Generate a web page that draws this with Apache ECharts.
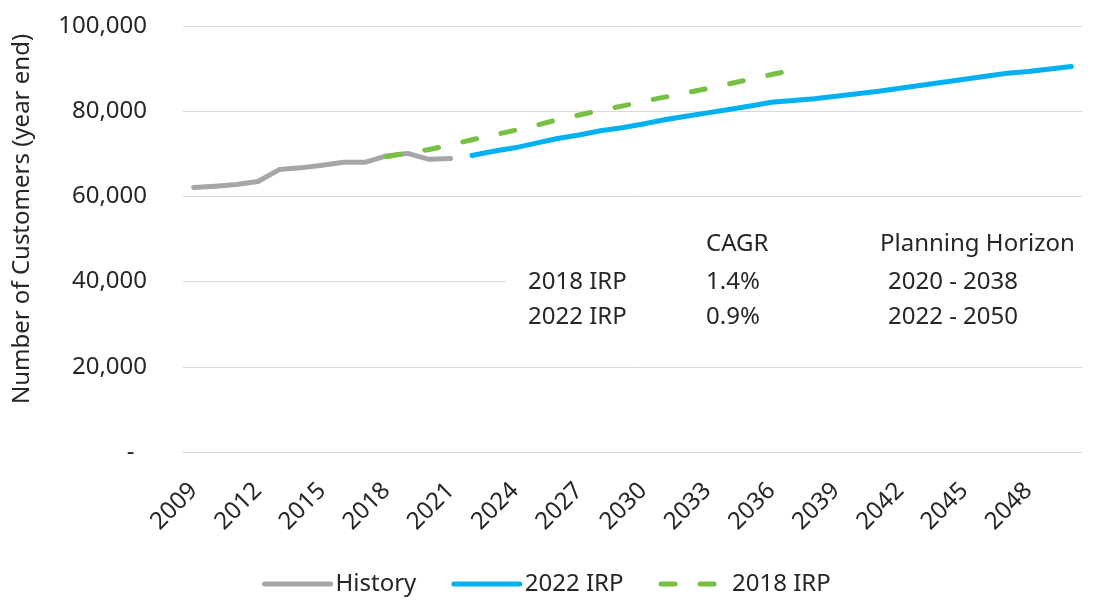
<!DOCTYPE html>
<html>
<head>
<meta charset="utf-8">
<script src="https://cdn.jsdelivr.net/npm/echarts@6/dist/echarts.min.js"></script>
<style>
html,body{margin:0;padding:0;background:#fff;}
#chart{width:1095px;height:613px;}
</style>
</head>
<body>
<div id="chart"></div>
<script>
// Categories (year end)
const years = ['2009','2010','2011','2012','2013','2014','2015','2016','2017','2018','2019','2020','2021','2022','2023','2024','2025','2026','2027','2028','2029','2030','2031','2032','2033','2034','2035','2036','2037','2038','2039','2040','2041','2042','2043','2044','2045','2046','2047','2048','2049','2050'];

// History 2009-2021
const historyStart = '2009';
const history = [62100, 62400, 62800, 63500, 66300, 66700, 67300, 68000, 68000, 69500, 70100, 68700, 68900];

// 2022 IRP forecast 2022-2050
const irp2022Start = '2022';
const irp2022 = [69600, 70600, 71400, 72500, 73600, 74400, 75400, 76100, 77000, 78000, 78800, 79600, 80400, 81200, 82100, 82500, 82900, 83500, 84100, 84700, 85400, 86100, 86800, 87500, 88200, 88900, 89300, 89900, 90500];

// 2018 IRP forecast 2018-2037
const irp2018Start = '2018';
const irp2018 = [69300, 70200, 71000, 72100, 73300, 74400, 75500, 76700, 78000, 79100, 80200, 81200, 82300, 83300, 84300, 85300, 86400, 87500, 88600, 89700];

// Y axis ticks
const yTicks = [0, 20000, 40000, 60000, 80000, 100000];

// Annotation table
const tableHeader = ['CAGR', 'Planning Horizon'];
const tableRows = [
  ['2018 IRP', '1.4%', '2020 - 2038'],
  ['2022 IRP', '0.9%', '2022 - 2050']
];

function place(startYear, values) {
  const out = years.map(() => null);
  const s = years.indexOf(startYear);
  values.forEach((v, i) => { out[s + i] = v; });
  return out;
}

const FONT = 'Noto Sans';
const TXT = '#262626';

const chart = echarts.init(document.getElementById('chart'), null, {renderer: 'canvas'});

const textEl = (x, y, text, align) => ({
  type: 'text', x: x, y: y, z: 11,
  style: {text: text, fill: TXT, font: '24px "' + FONT + '"', textAlign: align || 'left', textVerticalAlign: 'middle'}
});

const graphics = [
  {
    type: 'text', x: 22, y: 219, rotation: Math.PI / 2,
    style: {text: 'Number of Customers (year end)', fill: TXT, font: '24px "' + FONT + '"', textAlign: 'center', textVerticalAlign: 'middle'}
  },
  {
    type: 'rect', z: 10,
    shape: {x: 506, y: 228, width: 589, height: 108},
    style: {fill: '#ffffff'}
  },
  textEl(706, 244, tableHeader[0]),
  textEl(880, 244, tableHeader[1]),
  textEl(528, 282, tableRows[0][0]),
  textEl(706, 282, tableRows[0][1]),
  textEl(888, 282, tableRows[0][2]),
  textEl(528, 317, tableRows[1][0]),
  textEl(706, 317, tableRows[1][1]),
  textEl(888, 317, tableRows[1][2])
];

chart.setOption({
  animation: false,
  backgroundColor: '#fff',
  textStyle: {fontFamily: FONT, color: TXT},
  grid: {left: 183, right: 13, top: 26, bottom: 161, containLabel: false},
  xAxis: {
    type: 'category',
    data: years,
    boundaryGap: true,
    axisLine: {show: true, lineStyle: {color: '#d9d9d9', width: 1}},
    axisTick: {show: false},
    axisLabel: {interval: 2, rotate: 45, margin: 35, fontSize: 24, fontFamily: FONT, color: TXT}
  },
  yAxis: {
    type: 'value',
    min: yTicks[0],
    max: yTicks[yTicks.length - 1],
    interval: yTicks[1] - yTicks[0],
    axisLine: {show: false},
    axisTick: {show: false},
    splitLine: {lineStyle: {color: '#d9d9d9', width: 1}},
    axisLabel: {
      margin: 36, fontSize: 24, fontFamily: FONT, color: TXT,
      formatter: v => v === 0 ? '-  ' : v.toLocaleString('en-US')
    }
  },
  legend: {
    left: 257, top: 567,
    itemWidth: 66, itemHeight: 24, itemGap: 35,
    itemStyle: {opacity: 0},
    lineStyle: {width: 5, cap: 'round'},
    textStyle: {fontSize: 24, fontFamily: FONT, color: TXT},
    data: ['History', '2022 IRP', '2018 IRP']
  },
  series: [
    {
      name: 'History', type: 'line', data: place(historyStart, history),
      symbol: 'none', showSymbol: false, connectNulls: false,
      lineStyle: {color: '#A6A6A6', width: 5, cap: 'round', join: 'round'},
      itemStyle: {color: '#A6A6A6'}, z: 3
    },
    {
      name: '2022 IRP', type: 'line', data: place(irp2022Start, irp2022),
      symbol: 'none', showSymbol: false,
      lineStyle: {color: '#00B0F0', width: 5, cap: 'round', join: 'round'},
      itemStyle: {color: '#00B0F0'}, z: 3
    },
    {
      name: '2018 IRP', type: 'line', data: place(irp2018Start, irp2018),
      symbol: 'none', showSymbol: false,
      lineStyle: {color: '#77C043', width: 5, type: [14, 25], cap: 'round', join: 'round'},
      itemStyle: {color: '#77C043'}, z: 4
    }
  ],
  graphic: graphics
});
</script>
</body>
</html>
